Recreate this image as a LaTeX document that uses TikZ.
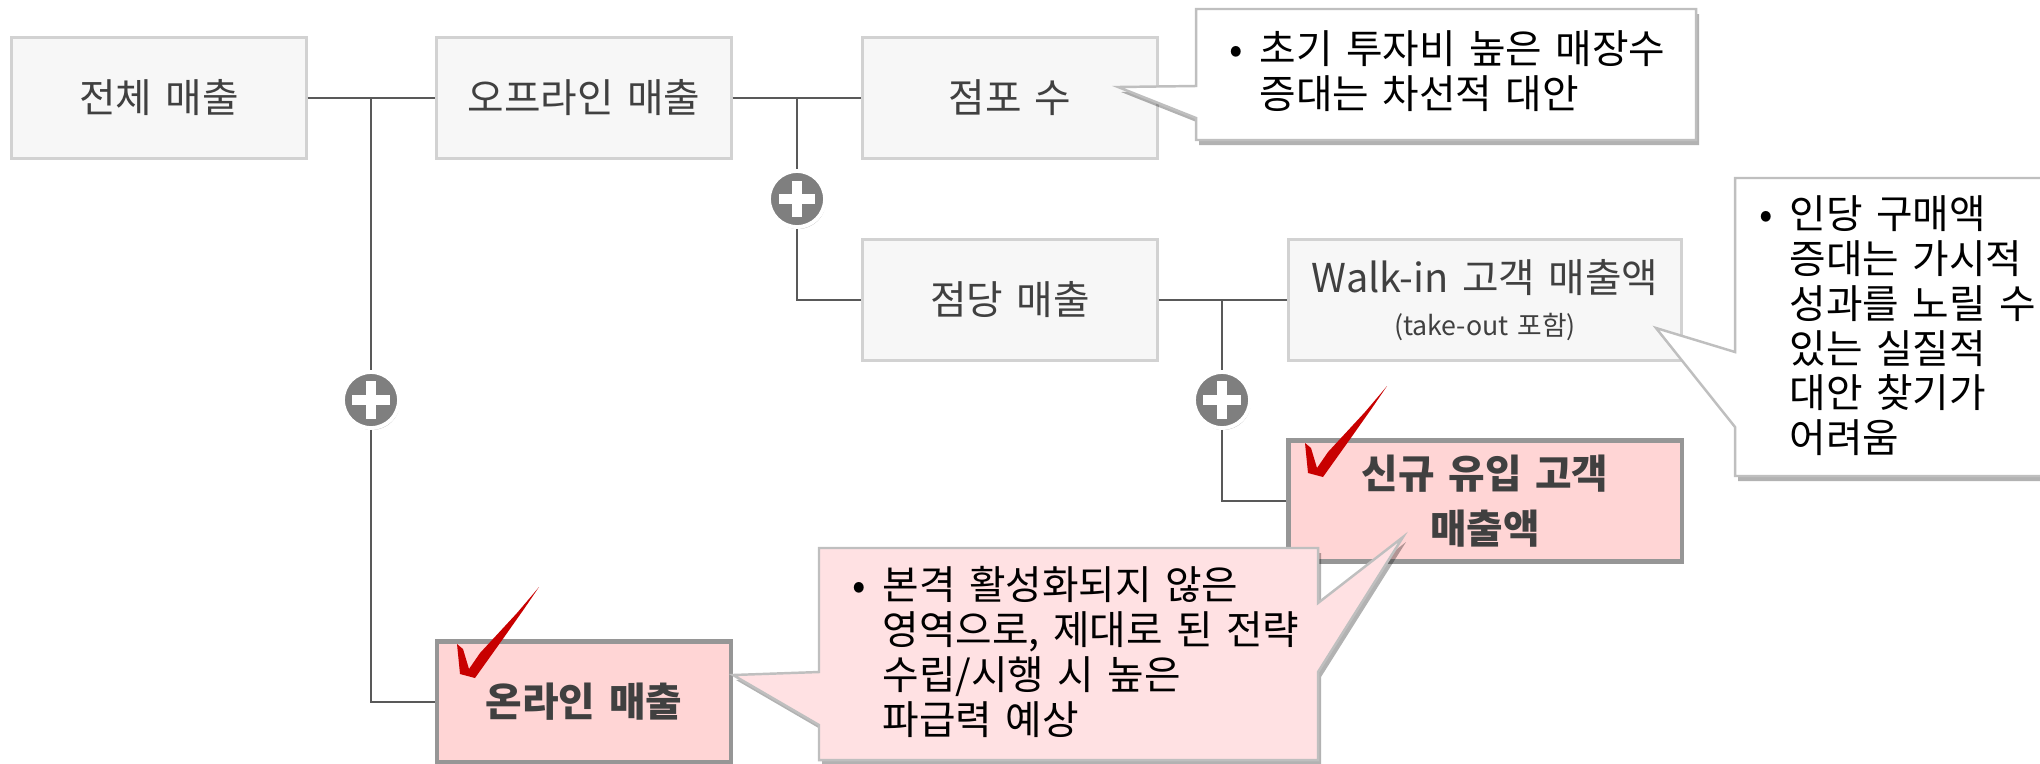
\documentclass[tikz,border=0pt]{standalone}
\usepackage{fontspec}
\usepackage{xcolor}
\setmainfont{Noto Sans CJK KR}[WordSpace=1.5]
\usetikzlibrary{shadows}

\definecolor{boxgray}{HTML}{F7F7F7}
\definecolor{boxline}{HTML}{D2D2D2}
\definecolor{pinkbox}{HTML}{FFD5D5}
\definecolor{pinkline}{HTML}{969696}
\definecolor{pinknote}{HTML}{FFE1E3}
\definecolor{noteline}{HTML}{BFBFBF}
\definecolor{wire}{HTML}{595959}
\definecolor{opgray}{HTML}{7F7F7F}
\definecolor{checkred}{HTML}{C80000}
\definecolor{textgray}{HTML}{404040}

\newcommand{\bulletitem}{\makebox[0.30cm][l]{\textbullet}}
\newcommand{\bulletskip}{\hspace*{0.30cm}}

\tikzset{
    salesbox/.style={draw=boxline, fill=boxgray, line width=0.85pt, text=textgray, align=center,
        minimum width=2.94cm, minimum height=1.21cm, inner sep=0pt, font=\fontsize{11.3}{15}\selectfont},
    wideboxgray/.style={salesbox, minimum width=3.93cm},
    targetbox/.style={salesbox, draw=pinkline, fill=pinkbox, line width=1.2pt, font=\fontsize{11.3}{15.6}\bfseries\selectfont},
    wire/.style={draw=wire, line width=0.6pt},
    opnode/.style={circle, draw=white, fill=opgray, line width=1.1pt, minimum size=0.56cm, inner sep=0pt,
        drop shadow={shadow xshift=0.01cm, shadow yshift=-0.02cm, fill=black, opacity=0.25}},
    plusnode/.style={opnode, path picture={
        \fill[white, shift={(path picture bounding box.center)}] (-0.19cm,-0.05cm) rectangle (0.19cm,0.05cm);
        \fill[white, shift={(path picture bounding box.center)}] (-0.05cm,-0.19cm) rectangle (0.05cm,0.19cm);}},
    timesnode/.style={opnode, path picture={
        \fill[white, shift={(path picture bounding box.center)}, rotate=45] (-0.18cm,-0.05cm) rectangle (0.18cm,0.05cm);
        \fill[white, shift={(path picture bounding box.center)}, rotate=45] (-0.05cm,-0.18cm) rectangle (0.05cm,0.18cm);}},
    notewhite/.style={draw=noteline, fill=white, line width=0.7pt,
        drop shadow={shadow xshift=0.03cm, shadow yshift=-0.05cm, fill=black, opacity=0.3}},
    notepink/.style={notewhite, fill=pinknote},
    notetext/.style={anchor=north west, inner sep=0pt, align=left, text=black, font=\fontsize{11.3}{12.75}\selectfont},
}

\begin{document}
\begin{tikzpicture}[x=0.01cm, y=-0.01cm]
    \useasboundingbox(0, 0) rectangle (2040, 763);

    \node[salesbox](total) at (159, 98){전체 매출};
    \node[salesbox](offline) at (584, 98){오프라인 매출};
    \node[salesbox](stores) at (1010, 98){점포 수};
    \node[salesbox](perstore) at (1010, 300){점당 매출};
    \node[wideboxgray](walkin) at (1485, 300){Walk-in 고객 매출액\\[-3pt]{\fontsize{7.6}{10}\selectfont (take-out 포함)}};
    \node[targetbox, minimum width=3.93cm](newcust) at (1485, 501){신규 유입 고객\\매출액};
    \node[targetbox](online) at (584, 702){온라인 매출};

    \coordinate(jtotal) at (371, 98);
    \coordinate(joffline) at (797, 98);
    \coordinate(jperstore) at (1222, 300);

    \node[plusnode](plustotal) at (371, 400){};
    \node[timesnode](timesoffline) at (797, 199){};
    \node[plusnode](plusperstore) at (1222, 400){};

    \begin{scope}[on background layer/.try]
    \end{scope}

    \draw[wire](total.east)--(offline.west);
    \draw[wire](offline.east)--(stores.west);
    \draw[wire](perstore.east)--(walkin.west);
    \draw[wire](jtotal)--(plustotal.north);
    \draw[wire](plustotal.south)|-(online.west);
    \draw[wire](joffline)--(timesoffline.north);
    \draw[wire](timesoffline.south)|-(perstore.west);
    \draw[wire](jperstore)--(plusperstore.north);
    \draw[wire](plusperstore.south)|-(newcust.west);

    \draw[notewhite](1196, 9)--(1696, 9)--(1696, 140)--(1196, 140)--(1196, 118)--(1118, 87)--(1196, 86)--cycle;
    \node[notetext](noteA) at (1229, 30){\bulletitem 초기 투자비 높은 매장수\\\bulletskip 증대는 차선적 대안};

    \draw[notewhite](1735, 178)--(2050, 178)--(2050, 476)--(1735, 476)--(1735, 427)--(1656, 328)--(1735, 352)--cycle;
    \node[notetext](noteB) at (1759, 195){\bulletitem 인당 구매액\\\bulletskip 증대는 가시적\\\bulletskip 성과를 노릴 수\\\bulletskip 있는 실질적\\\bulletskip 대안 찾기가\\\bulletskip 어려움};

    \draw[notepink](819, 548)--(1318, 548)--(1318, 603)--(1403, 537)--(1318, 672)--(1318, 760)--(819, 760)--(819, 725)--(733, 675)--(819, 672)--cycle;
    \node[notetext](noteC) at (852, 566){\bulletitem 본격 활성화되지 않은\\\bulletskip 영역으로, 제대로 된 전략\\\bulletskip 수립/시행 시 높은\\\bulletskip 파급력 예상};

    % check marks
    \foreach \dx/\dy in {0/0, -848/201}{
        \fill[checkred, shift={(\dx, \dy)}](1387, 386)--(1382, 392)--(1365, 412)--(1328, 452)--(1317, 468)--(1311, 448)--(1305, 443)--(1308, 473)--(1323, 477)--(1348, 442)--(1372, 408)--cycle;
    }
\end{tikzpicture}
\end{document}
